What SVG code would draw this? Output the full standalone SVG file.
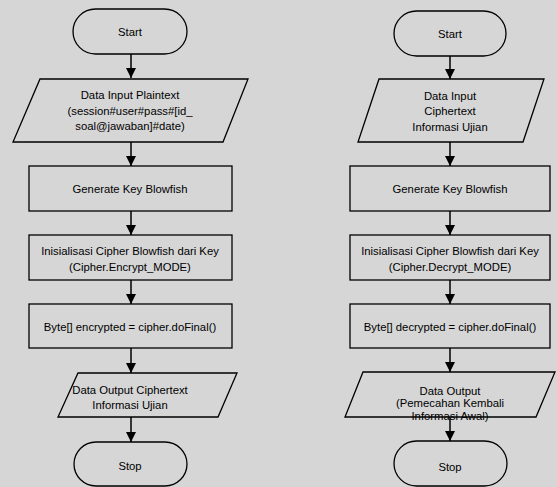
<svg xmlns="http://www.w3.org/2000/svg" width="557" height="487" viewBox="0 0 557 487">
<defs>
<marker id="ah" markerWidth="10" markerHeight="10" refX="10" refY="5" orient="auto" markerUnits="userSpaceOnUse">
<path d="M0,0 L10,5 L0,10 Z" fill="#000"/>
</marker>
<style>
.s{fill:none;stroke:#000;stroke-width:1.3}
.t{font-family:"Liberation Sans",Arial,sans-serif;font-size:11.3px;fill:#000;text-anchor:middle}
.c{stroke:#000;stroke-width:1.5;fill:none;marker-end:url(#ah)}
</style>
</defs>
<rect width="557" height="487" fill="#d6d6d6"/>
<g id="connectors">
<line class="c" x1="131" y1="54" x2="131" y2="78"/>
<line class="c" x1="131" y1="142" x2="131" y2="166"/>
<line class="c" x1="131" y1="211" x2="131" y2="235"/>
<line class="c" x1="131" y1="280" x2="131" y2="304"/>
<line class="c" x1="131" y1="348" x2="131" y2="373"/>
<line class="c" x1="131" y1="417" x2="131" y2="442"/>
<line class="c" x1="450" y1="56" x2="450" y2="79"/>
<line class="c" x1="450" y1="142" x2="450" y2="166"/>
<line class="c" x1="450" y1="211" x2="450" y2="235"/>
<line class="c" x1="450" y1="280" x2="450" y2="304"/>
<line class="c" x1="450" y1="348" x2="450" y2="372"/>
<line class="c" x1="450" y1="417" x2="450" y2="441"/>
</g>
<g id="l-start">
<rect class="s" x="73" y="9" width="114" height="45" rx="22.5"/>
<text class="t" x="130" y="36">Start</text>
</g>
<g id="l-input">
<polygon class="s" points="40,79 248,79 223,142 13,142"/>
<text class="t" x="130" y="99">Data Input Plaintext</text>
<text class="t" x="130" y="115">(session#user#pass#[id_</text>
<text class="t" x="130" y="130">soal@jawaban]#date)</text>
</g>
<g id="l-genkey">
<rect class="s" x="29" y="166" width="203" height="45"/>
<text class="t" x="130" y="193">Generate Key Blowfish</text>
</g>
<g id="l-init">
<rect class="s" x="29" y="235" width="203" height="45"/>
<text class="t" x="130" y="255">Inisialisasi Cipher Blowfish dari Key</text>
<text class="t" x="130" y="271">(Cipher.Encrypt_MODE)</text>
</g>
<g id="l-byte">
<rect class="s" x="29" y="304" width="203" height="44"/>
<text class="t" x="130" y="331">Byte[] encrypted = cipher.doFinal()</text>
</g>
<g id="l-output">
<polygon class="s" points="78,373 237,373 218,417 58,417"/>
<text class="t" x="130" y="394">Data Output Ciphertext</text>
<text class="t" x="130" y="409">Informasi Ujian</text>
</g>
<g id="l-stop">
<rect class="s" x="74" y="442" width="113" height="44" rx="22"/>
<text class="t" x="130" y="470">Stop</text>
</g>
<g id="r-start">
<rect class="s" x="394" y="11" width="112" height="45" rx="22.5"/>
<text class="t" x="450" y="38">Start</text>
</g>
<g id="r-input">
<polygon class="s" points="379,79 544,79 523,142 358,142"/>
<text class="t" x="450" y="100">Data Input</text>
<text class="t" x="450" y="115">Ciphertext</text>
<text class="t" x="450" y="131">Informasi Ujian</text>
</g>
<g id="r-genkey">
<rect class="s" x="350" y="166" width="200" height="45"/>
<text class="t" x="450" y="193">Generate Key Blowfish</text>
</g>
<g id="r-init">
<rect class="s" x="350" y="235" width="200" height="45"/>
<text class="t" x="450" y="255">Inisialisasi Cipher Blowfish dari Key</text>
<text class="t" x="450" y="271">(Cipher.Decrypt_MODE)</text>
</g>
<g id="r-byte">
<rect class="s" x="350" y="304" width="200" height="44"/>
<text class="t" x="450" y="331">Byte[] decrypted = cipher.doFinal()</text>
</g>
<g id="r-output">
<polygon class="s" points="363,372 555,372 536,417 345,417"/>
<text class="t" x="450" y="395">Data Output</text>
<text class="t" x="450" y="407">(Pemecahan Kembali</text>
<text class="t" x="450" y="420">Informasi Awal)</text>
</g>
<g id="r-stop">
<rect class="s" x="394" y="441" width="113" height="45" rx="22.5"/>
<text class="t" x="450" y="471">Stop</text>
</g>
</svg>
